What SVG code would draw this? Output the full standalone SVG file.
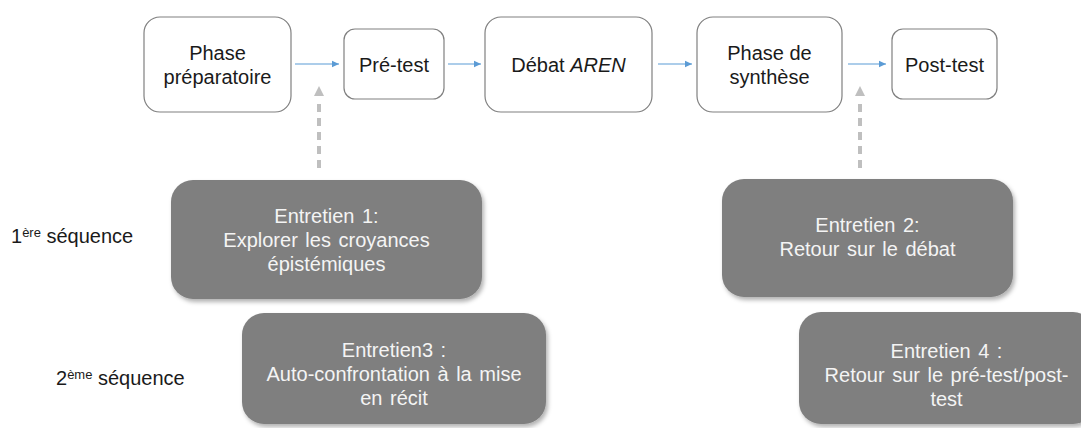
<svg xmlns="http://www.w3.org/2000/svg" width="1081" height="428" viewBox="0 0 1081 428">
<style>
.phase{fill:#ffffff;stroke:#808080;stroke-width:1.2}
.ptxt{font-family:"Liberation Sans",Arial,sans-serif;font-size:20px;fill:#1a1a1a;text-anchor:middle}
.ent{fill:#7f7f7f;filter:url(#sh)}
.etxt{font-family:"Liberation Sans",Arial,sans-serif;font-size:20px;fill:#f4f4f4;text-anchor:middle;word-spacing:2px}
.lbl{font-family:"Liberation Sans",Arial,sans-serif;font-size:20px;fill:#1a1a1a}
.flow{stroke:#5b9bd5;stroke-width:1.2;fill:none;marker-end:url(#ah)}
.dash{stroke:#bfbfbf;stroke-width:4;fill:none;stroke-dasharray:8 6}
</style>
<defs>
<marker id="ah" markerWidth="8" markerHeight="8" refX="7" refY="4" orient="auto" markerUnits="userSpaceOnUse">
<path d="M0,0.8 L7,4 L0,7.2 Z" fill="#5b9bd5"/>
</marker>
<filter id="sh" x="-10%" y="-10%" width="120%" height="130%">
<feDropShadow dx="2" dy="3" stdDeviation="2" flood-color="#000" flood-opacity="0.3"/>
</filter>
</defs>

<g id="connectors">
<line class="flow" x1="295" y1="64" x2="339" y2="64"/>
<line class="flow" x1="448" y1="64" x2="481" y2="64"/>
<line class="flow" x1="658" y1="64" x2="692" y2="64"/>
<line class="flow" x1="848" y1="64" x2="886" y2="64"/>
<line class="dash" x1="319" y1="168" x2="319" y2="100"/>
<path d="M314,96 L319,86 L324,96 Z" fill="#bfbfbf"/>
<line class="dash" x1="860" y1="168" x2="860" y2="100"/>
<path d="M855,96 L860,86 L865,96 Z" fill="#bfbfbf"/>
</g>

<g id="phase-preparatoire">
<rect class="phase" x="144" y="17" width="147" height="95" rx="16"/>
<text class="ptxt" x="217.5" y="59.5">Phase</text>
<text class="ptxt" x="217.5" y="83.5">préparatoire</text>
</g>
<g id="pre-test">
<rect class="phase" x="344" y="29" width="100" height="70" rx="11"/>
<text class="ptxt" x="394" y="71.5">Pré-test</text>
</g>
<g id="debat-aren">
<rect class="phase" x="485" y="17" width="167" height="95" rx="16"/>
<text class="ptxt" x="568.5" y="71.5">Débat <tspan font-style="italic">AREN</tspan></text>
</g>
<g id="phase-synthese">
<rect class="phase" x="697" y="17" width="145" height="95" rx="16"/>
<text class="ptxt" x="769.5" y="59.5">Phase de</text>
<text class="ptxt" x="769.5" y="83.5">synthèse</text>
</g>
<g id="post-test">
<rect class="phase" x="892" y="29" width="105" height="70" rx="11"/>
<text class="ptxt" x="944.5" y="71.5">Post-test</text>
</g>

<g id="entretien-1">
<rect class="ent" x="171" y="180" width="311" height="119" rx="22"/>
<text class="etxt" x="326.5" y="223">Entretien 1:</text>
<text class="etxt" x="326.5" y="247">Explorer les croyances</text>
<text class="etxt" x="326.5" y="271">épistémiques</text>
</g>
<g id="entretien-2">
<rect class="ent" x="722" y="179" width="291" height="118" rx="22"/>
<text class="etxt" x="867.5" y="232">Entretien 2:</text>
<text class="etxt" x="867.5" y="256">Retour sur le débat</text>
</g>
<g id="entretien-3">
<rect class="ent" x="242" y="313" width="304" height="111" rx="22"/>
<text class="etxt" x="394" y="357">Entretien3 :</text>
<text class="etxt" x="394" y="381">Auto-confrontation à la mise</text>
<text class="etxt" x="394" y="405">en récit</text>
</g>
<g id="entretien-4">
<rect class="ent" x="799" y="312" width="296" height="112" rx="22"/>
<text class="etxt" x="946.5" y="358">Entretien 4 :</text>
<text class="etxt" x="946.5" y="382">Retour sur le pré-test/post-</text>
<text class="etxt" x="946.5" y="406">test</text>
</g>

<g id="label-sequence-1">
<text class="lbl" x="11" y="243">1<tspan font-size="13" dy="-6">ère</tspan><tspan dy="6"> séquence</tspan></text>
</g>
<g id="label-sequence-2">
<text class="lbl" x="56" y="385">2<tspan font-size="13" dy="-6">ème</tspan><tspan dy="6"> séquence</tspan></text>
</g>
</svg>
